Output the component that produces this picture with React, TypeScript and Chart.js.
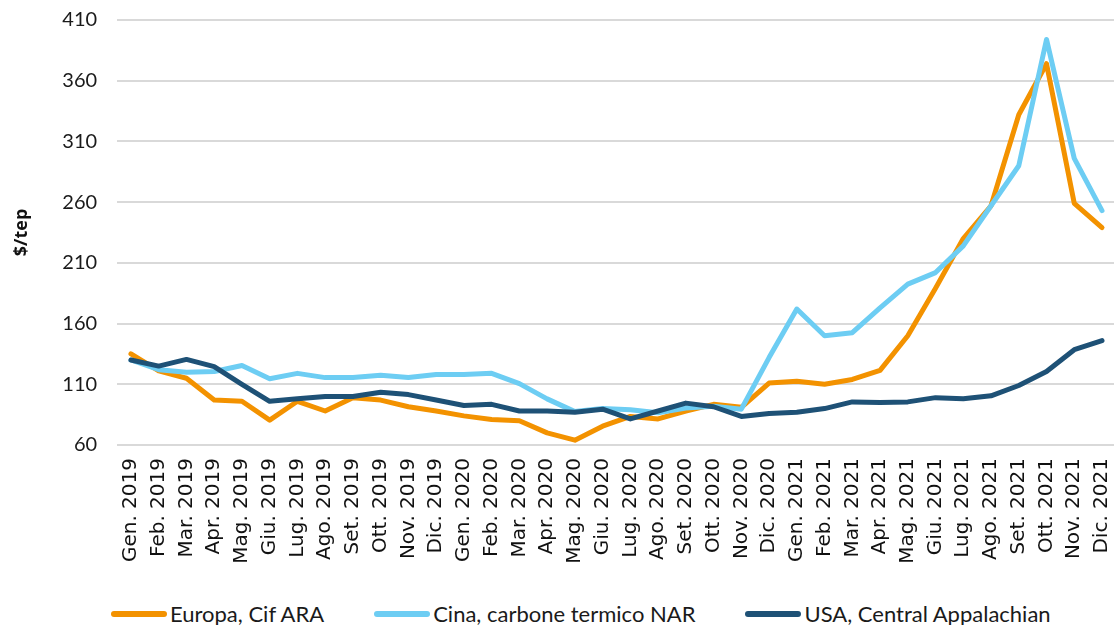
import React, { useEffect, useRef } from "react";
import { Chart, registerables } from "chart.js";

Chart.register(...registerables);

const months = ["Gen.", "Feb.", "Mar.", "Apr.", "Mag.", "Giu.", "Lug.", "Ago.", "Set.", "Ott.", "Nov.", "Dic."];
const years = ["2019", "2020", "2021"];
const categories: string[] = years.flatMap((y) => months.map((m) => `${m} ${y}`));

const seriesNames = ["Europa, Cif ARA", "Cina, carbone termico NAR", "USA, Central Appalachian"];
const seriesColors = ["#F39200", "#6DCDF3", "#1E5176"];

const europa = [135, 121, 115, 97, 96, 80.5, 96, 88, 99, 97, 91.5, 88, 84, 81, 80, 70, 64, 75.5, 83.5, 81.5, 88, 93.5, 91, 111, 112.5, 110, 114, 121.5, 150, 189, 230, 257, 332, 374, 259, 239];
const cina = [130, 122, 120, 120.5, 125.5, 114.5, 119, 115.5, 115.5, 117.5, 115.5, 118, 118, 119, 110.5, 98, 87.5, 90, 89, 86.5, 90.5, 92, 89.5, 132, 172, 150, 152.5, 173, 192.5, 202, 224, 257, 290, 394, 296, 253];
const usa = [130, 125, 130.5, 124.5, 110, 96, 98, 100, 100, 103.5, 101.5, 97, 92.5, 93.5, 88, 88, 87, 89.5, 81.5, 88, 94.5, 91.5, 83.5, 86, 87, 90, 95.5, 95, 95.5, 99, 98, 100.5, 109, 120.5, 138.5, 146];

const yMin = 60;
const yMax = 410;
const yStep = 50;
const yTitle = "$/tep";

const seriesValues = [europa, cina, usa];

export default function App() {
  const canvasRef = useRef<HTMLCanvasElement | null>(null);

  useEffect(() => {
    if (!canvasRef.current) return;
    const chart = new Chart(canvasRef.current, {
      type: "line",
      data: {
        labels: categories,
        datasets: seriesValues.map((vals, i) => ({
          label: seriesNames[i],
          data: vals,
          borderColor: seriesColors[i],
          backgroundColor: seriesColors[i],
          borderWidth: 5,
          pointRadius: 0,
          pointHoverRadius: 0,
          tension: 0,
          borderCapStyle: "round" as const,
          borderJoinStyle: "round" as const,
          fill: false,
          order: 3 - i,
        })),
      },
      options: {
        animation: false,
        responsive: true,
        maintainAspectRatio: false,
        layout: { padding: { top: 20, right: 0, bottom: 0, left: 0 } },
        plugins: {
          legend: { display: false },
          tooltip: { enabled: false },
        },
        scales: {
          x: {
            type: "category",
            offset: true,
            grid: { display: false },
            border: { display: false },
            ticks: {
              autoSkip: false,
              minRotation: 90,
              maxRotation: 90,
              padding: 5,
              color: "#111",
              font: { family: "'DejaVu Sans'", size: 20 },
            },
            afterFit: (scale: any) => {
              scale.height = 145;
            },
          },
          y: {
            min: yMin,
            max: yMax,
            border: { display: false },
            grid: { color: "#D9D9D9", lineWidth: 2, drawTicks: false },
            ticks: {
              stepSize: yStep,
              padding: 20,
              color: "#1a1a1a",
              font: { family: "Lato", size: 20 },
            },
            title: {
              display: true,
              text: yTitle,
              color: "#111",
              padding: { top: 10.7, bottom: 10 },
              font: { family: "'Open Sans'", size: 18, weight: "bold" },
            },
            afterFit: (scale: any) => {
              scale.paddingTop = 0;
              scale.paddingBottom = 0;
            },
          },
        },
      },
    });
    return () => chart.destroy();
  }, []);

  return (
    <div style={{ position: "fixed", left: 0, top: 0, width: 1114, height: 625, background: "#fff", overflow: "hidden" }}>
      <div style={{ position: "absolute", left: 0, top: 0, width: 1131, height: 590 }}>
        <canvas ref={canvasRef} />
      </div>
      <div
        style={{
          position: "absolute",
          left: 111,
          top: 601,
          display: "flex",
          alignItems: "center",
          gap: 50,
          fontFamily: "Lato, sans-serif",
          fontSize: 22,
          lineHeight: "26px",
          color: "#1a1a1a",
          whiteSpace: "nowrap",
        }}
      >
        {seriesNames.map((name, i) => (
          <div key={name} style={{ display: "flex", alignItems: "center" }}>
            <span style={{ display: "inline-block", width: 56, height: 6, borderRadius: 3, background: seriesColors[i] }} />
            <span style={{ marginLeft: 3 }}>{name}</span>
          </div>
        ))}
      </div>
    </div>
  );
}
